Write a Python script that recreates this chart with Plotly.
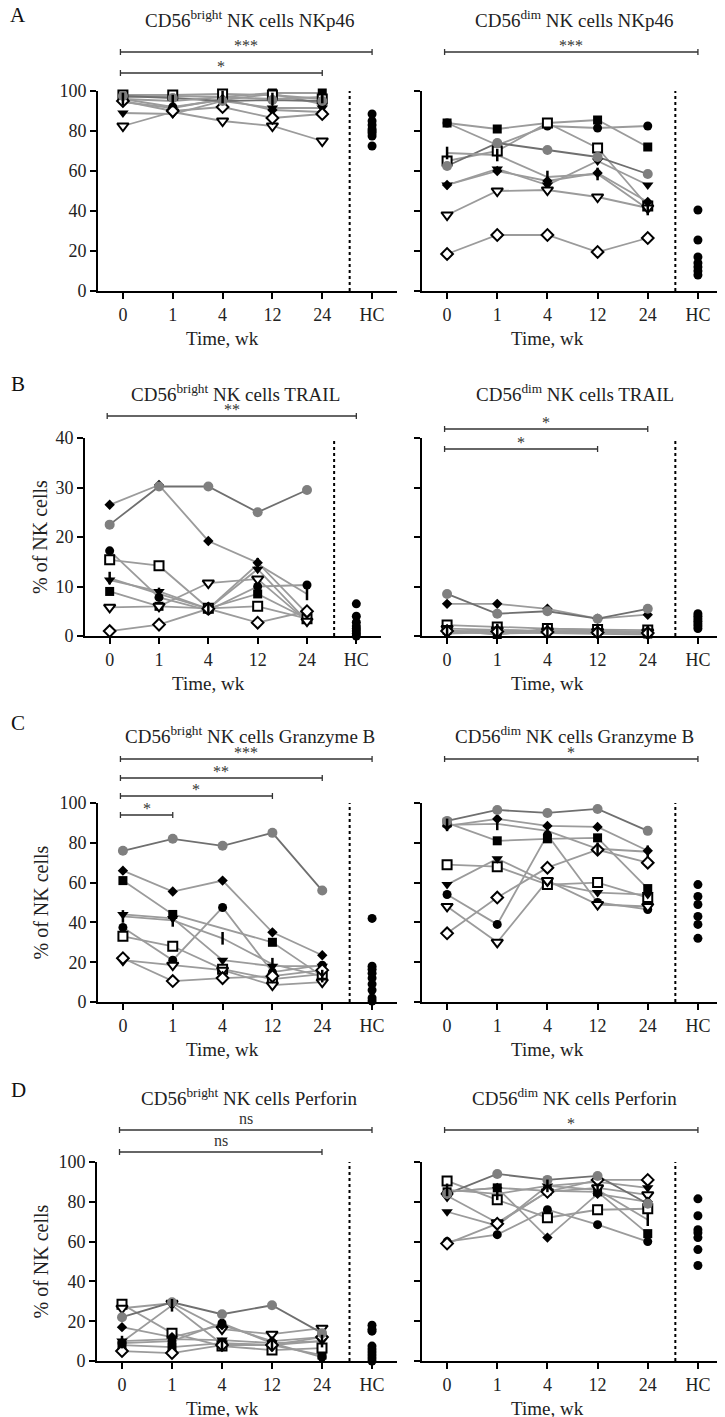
import plotly.graph_objects as go

W, H = 725, 1417
OFF = 8  # page body margin compensation (pixels)
FONT = "Liberation Serif, Times New Roman, DejaVu Serif, serif"

timepoints = ["0", "1", "4", "12", "24"]
hc_label = "HC"

patients = ["circle", "square", "open_square", "tri", "open_tri", "diamond", "open_diamond", "grey", "bar"]

# ---------------- data (values at wk 0, 1, 4, 12, 24; None = not measured) ----------------
nkp46_bright = {
    "circle": [96, 92, 95.5, 98.5, 93.5],
    "square": [97, 97.5, 97, 99, 99],
    "open_square": [98, 98, 98.5, 98, 96],
    "tri": [89, 88.5, 95, 91.5, 91.5],
    "open_tri": [82.5, 89.5, 85, 82.5, 75],
    "diamond": [94.5, 91.5, 96, 90.5, 89.5],
    "open_diamond": [95, 90, 92, 86.5, 88.5],
    "grey": [97.5, 96.5, 95, 95.5, 95],
    "bar": [96, 95, 97, 96, 97],
}
nkp46_bright_hc = [88.5, 85, 83, 81, 80, 79, 77.5, 72.5]

nkp46_dim = {
    "circle": [84, 73, 82.5, 81.5, 82.5],
    "square": [84, 81, 84, 85.5, 72],
    "open_square": [65, 70, 84, 71.5, 42.5],
    "tri": [53, 61, 53, 65, 53],
    "open_tri": [38, 50, 50.5, 47, 41.5],
    "diamond": [53, 60, 55, 59, 44.5],
    "open_diamond": [18.5, 28, 28, 19.5, 26.5],
    "grey": [62.5, 74, 70.5, 67, 58.5],
    "bar": [69, 68, 57, 58.5, 41],
}
nkp46_dim_hc = [40.5, 25.5, 17, 14, 12, 10, 8]

trail_bright = {
    "circle": [17.2, 7.8, 5.2, 10, 10.3],
    "square": [9, 6, 5.6, 8.5, 3.5],
    "open_square": [15.4, 14.2, 5.6, 6, 3.5],
    "tri": [11.3, 9, 5.5, 13.5, 3],
    "open_tri": [5.8, 6, 10.7, 11.5, 3],
    "diamond": [26.5, 30.5, 19.2, 14.8, 4.5],
    "open_diamond": [1, 2.3, 5.5, 2.7, 5],
    "grey": [22.5, 30.2, 30.2, 25, 29.5],
    "bar": [11.7, 8.5, 5.5, 14.5, 8.5],
}
trail_bright_hc = [6.5, 4, 2.8, 2, 1.5, 1, 0.5, 0]

trail_dim = {
    "circle": [0.8, 0.5, 0.7, 0.6, 0.5],
    "square": [1.2, 0.3, 1.5, 1.3, 0.4],
    "open_square": [2.2, 1.8, 1.5, 1.3, 1.2],
    "tri": [0.5, 0.8, 0.6, 0.4, 0.3],
    "open_tri": [1.5, 1.2, 1.0, 0.9, 0.8],
    "diamond": [6.5, 6.5, 5.5, 3.5, 4.3],
    "open_diamond": [1.0, 0.9, 0.8, 0.7, 0.6],
    "grey": [8.5, 4.5, 5.0, 3.5, 5.5],
    "bar": [0.9, 1.2, 1.0, 1.1, 0.9],
}
trail_dim_hc = [4.5, 4, 3.5, 3, 2.5, 2, 1.5]

gzmb_bright = {
    "circle": [37.5, 21, 47.5, 15, 18.5],
    "square": [61, 44, None, 30, 13],
    "open_square": [33, 28, 16.5, 11.5, 14],
    "tri": [44, 42, 21, 18, 18],
    "open_tri": [21, 18.5, 16, 8.5, 10],
    "diamond": [66, 55.5, 61, 35, 23.5],
    "open_diamond": [22, 10.5, 12, 13, 16],
    "grey": [76, 82, 78.5, 85, 56],
    "bar": [43, 41, 32, 19, 13],
}
gzmb_bright_hc = [42, 18, 16.5, 14.5, 12, 9, 6, 2, 0.5]

gzmb_dim = {
    "circle": [54, 39, 84, 50, 46.5],
    "square": [90, 81, 82, 82.5, 57],
    "open_square": [69, 68, 59, 60, 52.5],
    "tri": [59, 72, 60, 55, 54],
    "open_tri": [48, 30, 61, 49, 48],
    "diamond": [88.5, 92, 88.5, 88, 76],
    "open_diamond": [34.5, 52.5, 67.5, 76.5, 70],
    "grey": [91, 96.5, 95, 97, 86],
    "bar": [89, 89.5, 86, 77, 75.5],
}
gzmb_dim_hc = [59, 53, 49, 43, 39, 32]

perf_bright = {
    "circle": [9, 10, 19, 9, 2],
    "square": [8, 7, 9, 8, 3],
    "open_square": [28.5, 14, 7.5, 5.5, 6.5],
    "tri": [10, 11, 10.5, 9, 10],
    "open_tri": [26.5, 29, 16, 13.5, 16.5],
    "diamond": [17, 12, 18, 10, 12],
    "open_diamond": [5, 4, 8, 8, 12],
    "grey": [22, 29.5, 23.5, 28, 14],
    "bar": [9.5, 28, 8.5, 8, 10],
}
perf_bright_hc = [18, 16, 15, 7.5, 6, 4.5, 3, 1.5, 0]

perf_dim = {
    "circle": [60, 63.5, 76, 68.5, 60],
    "square": [85, 87, 85.5, 85, 64],
    "open_square": [90.5, 81, 72, 76, 76.5],
    "tri": [75, 68, 88, 90, 87],
    "open_tri": [83, 69.5, 85, 87, 83.5],
    "diamond": [85, 87, 62, 84, 80],
    "open_diamond": [59, 69, 85, 91, 91],
    "grey": [84, 94, 91, 93, 79],
    "bar": [86, 84, 88, 86, 71],
}
perf_dim_hc = [81.5, 73, 66, 64.5, 62, 56, 48]

titles = [
    "CD56<sup>bright</sup> NK cells NKp46", "CD56<sup>dim</sup> NK cells NKp46",
    "CD56<sup>bright</sup> NK cells TRAIL", "CD56<sup>dim</sup> NK cells TRAIL",
    "CD56<sup>bright</sup> NK cells Granzyme B", "CD56<sup>dim</sup> NK cells Granzyme B",
    "CD56<sup>bright</sup> NK cells Perforin", "CD56<sup>dim</sup> NK cells Perforin",
]
# brackets: (from category index, to category index, label)
brackets = [
    [(0, 5, "***"), (0, 4, "*")],
    [(0, 5, "***")],
    [(0, 5, "**")],
    [(0, 4, "*"), (0, 3, "*")],
    [(0, 5, "***"), (0, 4, "**"), (0, 3, "*"), (0, 1, "*")],
    [(0, 5, "*")],
    [(0, 5, "ns"), (0, 4, "ns")],
    [(0, 5, "*")],
]
row_letters = ["A", "B", "C", "D"]

panels = [
    (nkp46_bright, nkp46_bright_hc), (nkp46_dim, nkp46_dim_hc),
    (trail_bright, trail_bright_hc), (trail_dim, trail_dim_hc),
    (gzmb_bright, gzmb_bright_hc), (gzmb_dim, gzmb_dim_hc),
    (perf_bright, perf_bright_hc), (perf_dim, perf_dim_hc),
]

# ---------------- layout geometry (screen pixels) ----------------
def px(x):
    return (x - OFF) / W

def py(y):
    return 1 - (y - OFF) / H

row_top = [91, 438, 803, 1162]
row_bot = [291, 636, 1002, 1361]
row_title = [19, 393, 735, 1097]
row_letter_y = [15, 384, 723, 1090]
row_ymax = [100, 40, 100, 100]
row_dtick = [20, 10, 20, 20]
left_x = [(98, 397), (85, 381), (98, 397), (97, 397)]
right_x = (422, 723)
bracket_y = [
    [52, 73], [52], [416], [429, 449],
    [759, 778, 796, 815], [759], [1130, 1152], [1130],
]

styles = {
    "circle": dict(symbol="circle", size=9, color="black", line=dict(width=0)),
    "square": dict(symbol="square", size=9, color="black", line=dict(width=0)),
    "open_square": dict(symbol="square", size=9, color="white", line=dict(width=2, color="black")),
    "tri": dict(symbol="triangle-down", size=10, color="black", line=dict(width=0)),
    "open_tri": dict(symbol="triangle-down", size=10, color="white", line=dict(width=2, color="black")),
    "diamond": dict(symbol="diamond", size=8, color="black", line=dict(width=0)),
    "open_diamond": dict(symbol="diamond", size=9, color="white", line=dict(width=2, color="black")),
    "grey": dict(symbol="circle", size=10, color="#7f7f7f", line=dict(width=0)),
    "bar": dict(symbol="line-ns", size=9, color="black", line=dict(width=2.5, color="black")),
}

fig = go.Figure()
shapes = []
annotations = []
layout_axes = {}

for k in range(8):
    r, c = divmod(k, 2)
    idx = k + 1
    xa = "x" if idx == 1 else f"x{idx}"
    ya = "y" if idx == 1 else f"y{idx}"
    xkey = "xaxis" if idx == 1 else f"xaxis{idx}"
    ykey = "yaxis" if idx == 1 else f"yaxis{idx}"
    x0p, x1p = left_x[r] if c == 0 else right_x
    data, hc = panels[k]

    # lines first
    for p in patients:
        fig.add_trace(go.Scatter(
            x=timepoints, y=data[p], mode="lines", xaxis=xa, yaxis=ya,
            connectgaps=True,
            line=dict(color="#6f6f6f" if p == "grey" else "#9b9b9b", width=1.8),
            hoverinfo="skip", showlegend=False, cliponaxis=False))
    # markers
    for p in patients:
        st = styles[p]
        fig.add_trace(go.Scatter(
            x=timepoints, y=data[p], mode="markers", xaxis=xa, yaxis=ya,
            marker=st, showlegend=False, cliponaxis=False))
    fig.add_trace(go.Scatter(
        x=[hc_label] * len(hc), y=hc, mode="markers", xaxis=xa, yaxis=ya,
        marker=dict(symbol="circle", size=9, color="black"),
        showlegend=False, cliponaxis=False))

    layout_axes[xkey] = dict(
        domain=[px(x0p), px(x1p)], anchor=ya, type="category",
        categoryorder="array", categoryarray=timepoints + [hc_label],
        range=[-0.5, 5.5], showgrid=False, zeroline=False, automargin=False,
        showline=True, linecolor="black", linewidth=2,
        ticks="outside", ticklen=6, tickwidth=2, tickcolor="black",
        tickfont=dict(family=FONT, size=18, color="#222"),
        fixedrange=True)
    layout_axes[ykey] = dict(
        domain=[py(row_bot[r]), py(row_top[r])], anchor=xa, automargin=False,
        range=[0, row_ymax[r]], dtick=row_dtick[r], tick0=0,
        showgrid=False, zeroline=False, showline=True, linecolor="black",
        linewidth=2, ticks="outside", ticklen=6, tickwidth=2, tickcolor="black",
        showticklabels=(c == 0),
        tickfont=dict(family=FONT, size=18, color="#222"),
        fixedrange=True)

    # dotted separator
    shapes.append(dict(type="line", xref=xa, yref=ya, x0=4.55, x1=4.55,
                       y0=0, y1=row_ymax[r],
                       line=dict(color="black", width=2, dash="dot")))

    # brackets
    cap = 3
    for (b0, b1, lab), ybp in zip(brackets[k], bracket_y[k]):
        xs, xe = b0 - 0.05, b1
        shapes.append(dict(type="line", xref=xa, yref="paper", x0=xs, x1=xe,
                           y0=py(ybp), y1=py(ybp), line=dict(color="#333", width=1.3)))
        for xx in (xs, xe):
            shapes.append(dict(type="line", xref=xa, yref="paper", x0=xx, x1=xx,
                               y0=py(ybp - cap), y1=py(ybp + cap),
                               line=dict(color="#333", width=1.3)))
        is_star = "*" in lab
        annotations.append(dict(xref=xa, yref="paper", x=(xs + xe) / 2,
                                y=py(ybp + 4) if is_star else py(ybp - 1),
                                text=lab, showarrow=False, yanchor="bottom",
                                font=dict(family=FONT, size=16, color="#333")))

    # title
    annotations.append(dict(xref="paper", yref="paper", x=px((x0p + x1p) / 2 + 2),
                            y=py(row_title[r]), text=titles[k], showarrow=False,
                            yanchor="middle", xanchor="center",
                            font=dict(family=FONT, size=19, color="#222")))
    # x-axis title
    annotations.append(dict(xref=xa, yref="paper", x=2, y=py(row_bot[r] + 47),
                            text="Time, wk", showarrow=False, yanchor="middle",
                            font=dict(family=FONT, size=19, color="#222")))
    # y-axis title
    if c == 0 and r > 0:
        annotations.append(dict(xref="paper", yref="paper", x=px(40),
                                y=py((row_top[r] + row_bot[r]) / 2),
                                text="% of NK cells", textangle=-90, showarrow=False,
                                xanchor="center", yanchor="middle",
                                font=dict(family=FONT, size=20, color="#222")))

for r in range(4):
    annotations.append(dict(xref="paper", yref="paper", x=px(18), y=py(row_letter_y[r]),
                            text=row_letters[r], showarrow=False, xanchor="center",
                            yanchor="middle", font=dict(family=FONT, size=21, color="#111")))

fig.update_layout(
    template="none",
    width=W, height=H, margin=dict(l=0, r=0, t=0, b=0, pad=0, autoexpand=False),
    paper_bgcolor="white", plot_bgcolor="white",
    font=dict(family=FONT, color="#222"),
    shapes=shapes, annotations=annotations, showlegend=False,
    **layout_axes)

fig.write_html("out.html")
